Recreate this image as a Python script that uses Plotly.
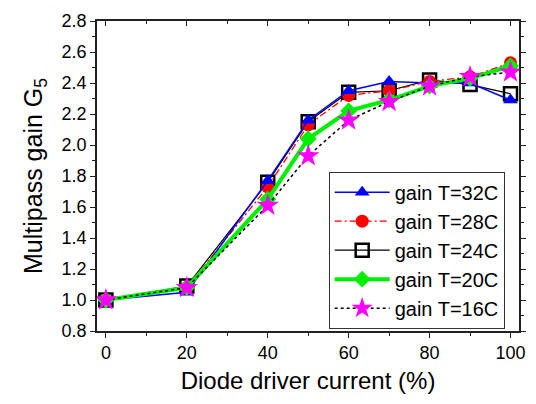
import plotly.graph_objects as go

current = [0, 20, 40, 50, 60, 70, 80, 90, 100]
gain_32 = [1.00, 1.05, 1.77, 2.16, 2.35, 2.41, 2.40, 2.40, 2.29]
gain_28 = [1.00, 1.08, 1.73, 2.13, 2.32, 2.35, 2.41, 2.44, 2.53]
gain_24 = [1.00, 1.09, 1.76, 2.15, 2.34, 2.35, 2.42, 2.39, 2.33]
gain_20 = [1.00, 1.08, 1.65, 2.04, 2.22, 2.29, 2.38, 2.43, 2.51]
gain_16 = [1.00, 1.08, 1.61, 1.93, 2.16, 2.28, 2.38, 2.44, 2.47]

x_ticks = [0, 20, 40, 60, 80, 100]
y_ticks = [0.8, 1.0, 1.2, 1.4, 1.6, 1.8, 2.0, 2.2, 2.4, 2.6, 2.8]

FONT = "Arial, Liberation Sans, sans-serif"

fig = go.Figure()
fig.add_trace(go.Scatter(x=current, y=gain_24, name="gain T=24C", legendrank=3,
                         mode="lines+markers",
                         line=dict(color="black", width=1.2),
                         marker=dict(symbol="square-open", size=13, color="black",
                                     line=dict(width=2.5, color="black"))))
fig.add_trace(go.Scatter(x=current, y=gain_28, name="gain T=28C", legendrank=2,
                         mode="lines+markers",
                         line=dict(color="#ff0000", width=1.3, dash="7px,3px,2px,3px"),
                         marker=dict(symbol="circle", size=13, color="#ff0000")))
fig.add_trace(go.Scatter(x=current, y=gain_32, name="gain T=32C", legendrank=1,
                         mode="lines+markers",
                         line=dict(color="#0000ff", width=1.5),
                         marker=dict(symbol="triangle-up", size=13, color="#0000ff")))
fig.add_trace(go.Scatter(x=current, y=gain_20, name="gain T=20C", legendrank=4,
                         mode="lines+markers",
                         line=dict(color="#00ee00", width=4),
                         marker=dict(symbol="diamond", size=13, color="#00ee00")))
fig.add_trace(go.Scatter(x=current, y=gain_16, name="gain T=16C", legendrank=5,
                         mode="lines+markers",
                         line=dict(color="black", width=1.5, dash="dot"),
                         marker=dict(symbol="star", size=17, color="#ff00ff",
                                     line=dict(width=0))))
# invisible trace to anchor mirrored axes
fig.add_trace(go.Scatter(x=[0], y=[1], xaxis="x2", yaxis="y2", mode="markers",
                         marker=dict(opacity=0), showlegend=False, hoverinfo="skip"))

axis_common = dict(showgrid=False, zeroline=False, linecolor="#222222", linewidth=1.5,
                   tickcolor="#222222", tickwidth=1.2, ticklen=5,
                   tickfont=dict(family=FONT, size=18, color="black"))

fig.update_layout(
    width=536, height=404,
    margin=dict(l=97, r=11, t=14, b=73),
    paper_bgcolor="white", plot_bgcolor="white",
    font=dict(family=FONT, color="black"),
    xaxis=dict(range=[-2.2, 102.1], tickvals=x_ticks, ticks="outside",
               minor=dict(dtick=10, tick0=0, ticks="outside", ticklen=3, tickcolor="#222222"),
               title=dict(text="Diode driver current (%)", font=dict(family=FONT, size=24),
                          standoff=10),
               **axis_common),
    yaxis=dict(range=[0.8, 2.8], tickvals=y_ticks, tickformat=".1f", ticks="outside",
               minor=dict(dtick=0.1, tick0=0.8, ticks="outside", ticklen=3, tickcolor="#222222"),
               title=dict(text="Multipass gain G<sub>5</sub>", font=dict(family=FONT, size=25),
                          standoff=12),
               **axis_common),
    xaxis2=dict(range=[-2.2, 102.1], tickvals=x_ticks, ticks="inside", overlaying="x",
                side="top", anchor="y2", showticklabels=False,
                minor=dict(dtick=10, tick0=0, ticks="inside", ticklen=3, tickcolor="#222222"),
                **axis_common),
    yaxis2=dict(range=[0.8, 2.8], tickvals=y_ticks, ticks="outside", overlaying="y",
                side="right", anchor="x2", showticklabels=False,
                minor=dict(dtick=0.1, tick0=0.8, ticks="outside", ticklen=3, tickcolor="#222222"),
                **axis_common),
    legend=dict(x=0.549, y=0.514, xanchor="left", yanchor="top",
                bordercolor="#333333", borderwidth=1, bgcolor="white",
                font=dict(family=FONT, size=20, color="black"),
                tracegroupgap=0, itemwidth=55),
    showlegend=True,
)

fig.write_html("out.html")
